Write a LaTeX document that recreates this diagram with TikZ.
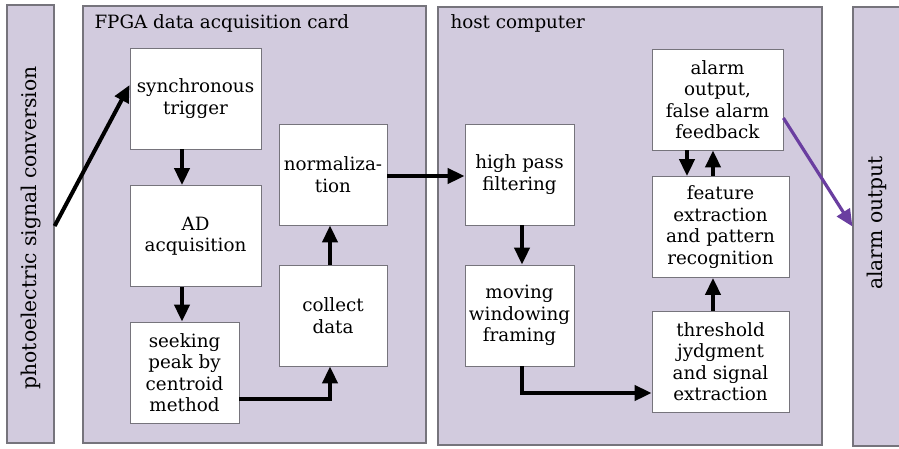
\documentclass[tikz,border=0pt]{standalone}
\usepackage{fontspec}
\setmainfont{DejaVu Serif}
\usetikzlibrary{arrows.meta}
\definecolor{panelfill}{RGB}{210,203,222}
\definecolor{panelline}{RGB}{118,116,124}
\definecolor{alarmpurple}{RGB}{106,62,160}
\tikzstyle{panel}=[draw=panelline, line width=1.2pt, fill=panelfill, inner sep=0pt]
\tikzstyle{sidelabel}=[rotate=90, font=\fontsize{20.3}{24}\selectfont]
\tikzstyle{stage}=[draw=panelline, line width=0.8pt, fill=white, align=center, inner sep=0pt, minimum height=101pt]
\tikzstyle{flow}=[line width=4pt, -{Triangle[length=17pt,width=15pt]}]
\tikzstyle{alarmflow}=[flow, draw=alarmpurple, line width=3.2pt]
% Syntax: \stagebox{name}{width}{centre x,centre y}{text}
\newcommand{\stagebox}[4]{
\node[stage, minimum width=#2] (#1) at (#3) {#4};
}

\begin{document}
\begin{tikzpicture}[x=1pt,y=-1pt,font=\fontsize{18.3}{21.5}\selectfont]
  \useasboundingbox (0,0) rectangle (899,448);
  % outer strips and the two processing units
  \node[panel, minimum width=47, minimum height=438] (conv) at (30.5,224) {};
  \node[sidelabel] at (31,228) {photoelectric signal conversion};
  \node[panel, minimum width=343, minimum height=437] (fpga) at (254.5,224.5) {};
  \node[anchor=base west] at (91,28) {FPGA data acquisition card};
  \node[panel, minimum width=384, minimum height=438] (host) at (630,226) {};
  \node[anchor=base west] at (447,28) {host computer};
  \node[panel, minimum width=52, minimum height=439] (out) at (879,226.5) {};
  \node[sidelabel] at (877,223) {alarm output};
  % FPGA stages
  \stagebox{sync}{131}{195.5,98.5}{synchronous\\trigger}
  \stagebox{ad}{131}{195.5,236}{AD\\acquisition}
  \stagebox{peak}{109}{184.5,372.5}{seeking\\peak by\\centroid\\method}
  \stagebox{collect}{108}{333,315.5}{collect\\data}
  \stagebox{norm}{108}{333,174.5}{normaliza-\\tion}
  % host stages
  \stagebox{hpf}{109}{519.5,174.5}{high pass\\filtering}
  \stagebox{mwf}{109}{519.5,315.5}{moving\\windowing\\framing}
  \stagebox{alarm}{131}{717.5,99.5}{alarm\\output,\\false alarm\\feedback}
  \stagebox{feat}{137}{720.5,227}{feature\\extraction\\and pattern\\recognition}
  \stagebox{thr}{137}{720.5,361.5}{threshold\\jydgment\\and signal\\extraction}
  % data flow
  \draw[flow] ([yshift=-2]conv.east) -- ([yshift=13.5]sync.west);
  \draw[flow] ([xshift=-13.5]sync.south) -- ([xshift=-13.5]ad.north);
  \draw[flow] ([xshift=-13.5]ad.south) -- ([xshift=-2.5]peak.north);
  \draw[flow] ([yshift=-26.5]peak.east) -| ([xshift=-3]collect.south);
  \draw[flow] ([xshift=-3]collect.north) -- ([xshift=-3]norm.south);
  \draw[flow] ([yshift=-1.5]norm.east) -- ([yshift=-1.5]hpf.west);
  \draw[flow] ([xshift=2.5]hpf.south) -- ([xshift=2.5]mwf.north);
  \draw[flow] ([xshift=2.5]mwf.south) |- ([yshift=-31.5]thr.west);
  \draw[flow] ([xshift=-7.5]thr.north) -- ([xshift=-7.5]feat.south);
  \draw[flow] ([xshift=-30.5]alarm.south) -- ([xshift=-33.5]feat.north);
  \draw[flow] ([xshift=-7.5]feat.north) -- ([xshift=-4.5]alarm.south);
  \draw[alarmflow] ([yshift=-18.5]alarm.east) -- (out.west);
\end{tikzpicture}
\end{document}
